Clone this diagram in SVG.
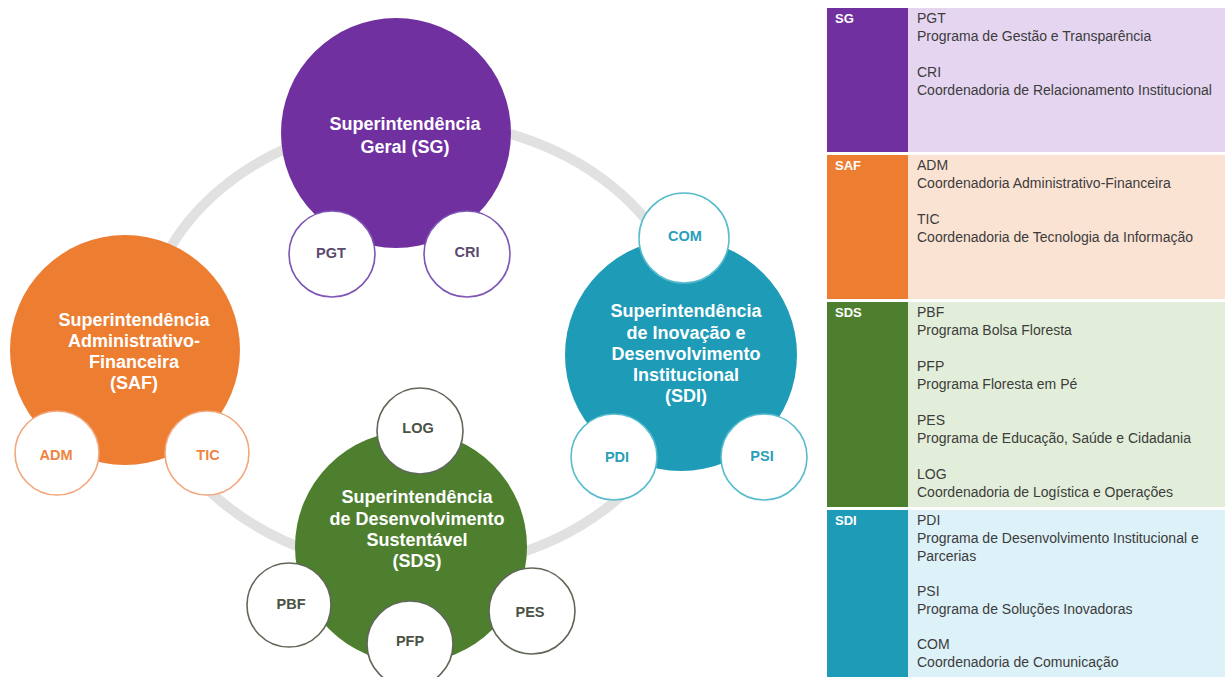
<svg xmlns="http://www.w3.org/2000/svg" width="1225" height="677" viewBox="0 0 1225 677">
  <style>
    .big { font-family: "Liberation Sans", Arial, sans-serif; font-weight: bold; font-size: 18px; fill: #ffffff; text-anchor: middle; }
    .sub { font-family: "Liberation Sans", Arial, sans-serif; font-weight: bold; font-size: 14.5px; text-anchor: middle; dominant-baseline: central; }
    .unit { fill: #ffffff; stroke-width: 1.6; }
    .code { font-family: "Liberation Sans", Arial, sans-serif; font-weight: bold; font-size: 13px; fill: #ffffff; }
    .desc { font-family: "Liberation Sans", Arial, sans-serif; font-size: 14px; fill: #3c3c3c; }
    .sg-u { stroke: #7d55b3; } .sg-t { fill: #5b4b6e; }
    .saf-u { stroke: #f1a67c; } .saf-t { fill: #ee8442; }
    .sdi-u { stroke: #58bccd; } .sdi-t { fill: #2aa0b8; }
    .sds-u { stroke: #5f6858; } .sds-t { fill: #4a5244; }
  </style>
  <rect width="1225" height="677" fill="#ffffff"/>

  <!-- ring linking the four superintendências -->
  <g id="connectors">
    <ellipse cx="418" cy="345" rx="275" ry="224" fill="none" stroke="#e1e1e1" stroke-width="10"/>
  </g>

  <!-- SG -->
  <g id="node-sg">
    <circle cx="396" cy="133" r="115" fill="#7030a0"/>
    <text class="big" x="405" y="130">Superintendência</text>
    <text class="big" x="405" y="153">Geral (SG)</text>
  </g>
  <g id="node-pgt">
    <circle class="unit sg-u" cx="332" cy="254" r="43"/>
    <text class="sub sg-t" x="331" y="253">PGT</text>
  </g>
  <g id="node-cri">
    <circle class="unit sg-u" cx="467" cy="254" r="43"/>
    <text class="sub sg-t" x="467" y="252">CRI</text>
  </g>

  <!-- SAF -->
  <g id="node-saf">
    <circle cx="125" cy="350" r="115" fill="#ed7d31"/>
    <text class="big" x="134" y="326">Superintendência</text>
    <text class="big" x="134" y="347">Administrativo-</text>
    <text class="big" x="134" y="368">Financeira</text>
    <text class="big" x="134" y="389">(SAF)</text>
  </g>
  <g id="node-adm">
    <circle class="unit saf-u" cx="57" cy="453" r="42"/>
    <text class="sub saf-t" x="56" y="455">ADM</text>
  </g>
  <g id="node-tic">
    <circle class="unit saf-u" cx="207" cy="453" r="42"/>
    <text class="sub saf-t" x="208" y="455">TIC</text>
  </g>

  <!-- SDI -->
  <g id="node-sdi">
    <circle cx="681" cy="355" r="116" fill="#1e9bb7"/>
    <text class="big" x="686" y="317">Superintendência</text>
    <text class="big" x="686" y="339">de Inovação e</text>
    <text class="big" x="686" y="360">Desenvolvimento</text>
    <text class="big" x="686" y="381">Institucional</text>
    <text class="big" x="686" y="402">(SDI)</text>
  </g>
  <g id="node-com">
    <circle class="unit sdi-u" cx="684" cy="238" r="45"/>
    <text class="sub sdi-t" x="685" y="236">COM</text>
  </g>
  <g id="node-pdi">
    <circle class="unit sdi-u" cx="614" cy="457" r="43"/>
    <text class="sub sdi-t" x="617" y="457">PDI</text>
  </g>
  <g id="node-psi">
    <circle class="unit sdi-u" cx="764" cy="457" r="43"/>
    <text class="sub sdi-t" x="762" y="456">PSI</text>
  </g>

  <!-- SDS -->
  <g id="node-sds">
    <circle cx="411" cy="547" r="116" fill="#4e7f2e"/>
    <text class="big" x="417" y="503">Superintendência</text>
    <text class="big" x="417" y="525">de Desenvolvimento</text>
    <text class="big" x="417" y="546">Sustentável</text>
    <text class="big" x="417" y="567">(SDS)</text>
  </g>
  <g id="node-log">
    <circle class="unit sds-u" cx="420" cy="431" r="43"/>
    <text class="sub sds-t" x="418" y="428">LOG</text>
  </g>
  <g id="node-pbf">
    <circle class="unit sds-u" cx="289" cy="605" r="42"/>
    <text class="sub sds-t" x="291" y="604">PBF</text>
  </g>
  <g id="node-pfp">
    <circle class="unit sds-u" cx="410" cy="644" r="43"/>
    <text class="sub sds-t" x="410" y="641">PFP</text>
  </g>
  <g id="node-pes">
    <circle class="unit sds-u" cx="532" cy="611" r="43"/>
    <text class="sub sds-t" x="530" y="612">PES</text>
  </g>

  <!-- legend table -->
  <g id="legend-sg">
    <rect x="827" y="8" width="81" height="144" fill="#7030a0"/>
    <rect x="908" y="8" width="317" height="144" fill="#e5d5f1"/>
    <text class="code" x="835" y="23">SG</text>
    <text class="desc" x="917" y="23">PGT</text>
    <text class="desc" x="917" y="41">Programa de Gestão e Transparência</text>
    <text class="desc" x="917" y="77">CRI</text>
    <text class="desc" x="917" y="95">Coordenadoria de Relacionamento Institucional</text>
  </g>
  <g id="legend-saf">
    <rect x="827" y="155" width="81" height="144" fill="#ed7d31"/>
    <rect x="908" y="155" width="317" height="144" fill="#fbe3d4"/>
    <text class="code" x="835" y="170">SAF</text>
    <text class="desc" x="917" y="170">ADM</text>
    <text class="desc" x="917" y="188">Coordenadoria Administrativo-Financeira</text>
    <text class="desc" x="917" y="224">TIC</text>
    <text class="desc" x="917" y="242">Coordenadoria de Tecnologia da Informação</text>
  </g>
  <g id="legend-sds">
    <rect x="827" y="302" width="81" height="205" fill="#4e7f2e"/>
    <rect x="908" y="302" width="317" height="205" fill="#e2eed9"/>
    <text class="code" x="835" y="317">SDS</text>
    <text class="desc" x="917" y="317">PBF</text>
    <text class="desc" x="917" y="335">Programa Bolsa Floresta</text>
    <text class="desc" x="917" y="371">PFP</text>
    <text class="desc" x="917" y="389">Programa Floresta em Pé</text>
    <text class="desc" x="917" y="425">PES</text>
    <text class="desc" x="917" y="443">Programa de Educação, Saúde e Cidadania</text>
    <text class="desc" x="917" y="479">LOG</text>
    <text class="desc" x="917" y="497">Coordenadoria de Logística e Operações</text>
  </g>
  <g id="legend-sdi">
    <rect x="827" y="510" width="81" height="167" fill="#1e9bb7"/>
    <rect x="908" y="510" width="317" height="167" fill="#ddf1f9"/>
    <text class="code" x="835" y="525">SDI</text>
    <text class="desc" x="917" y="525">PDI</text>
    <text class="desc" x="917" y="543">Programa de Desenvolvimento Institucional e</text>
    <text class="desc" x="917" y="561">Parcerias</text>
    <text class="desc" x="917" y="596">PSI</text>
    <text class="desc" x="917" y="614">Programa de Soluções Inovadoras</text>
    <text class="desc" x="917" y="649">COM</text>
    <text class="desc" x="917" y="667">Coordenadoria de Comunicação</text>
  </g>
</svg>
